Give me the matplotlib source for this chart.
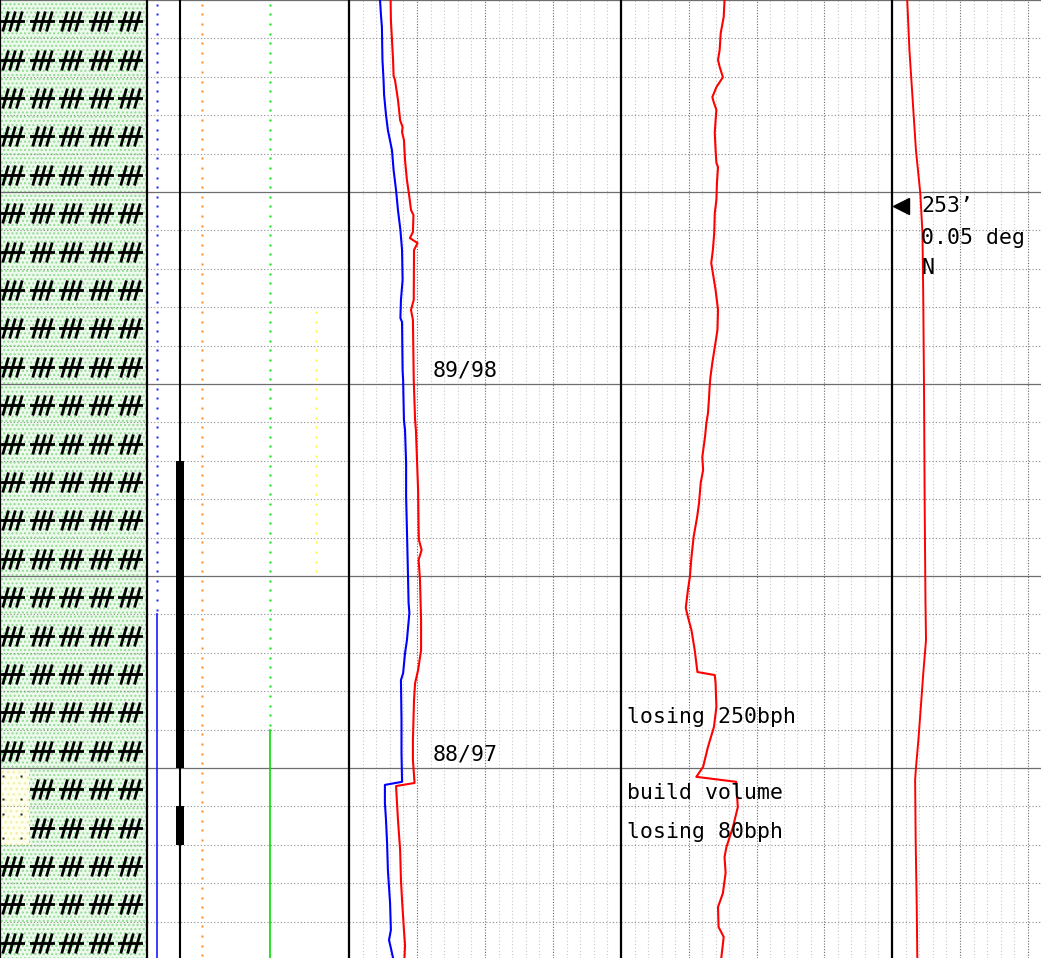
import numpy as np
import matplotlib
matplotlib.use("Agg")
import matplotlib.pyplot as plt
from matplotlib.path import Path
from matplotlib.patches import Rectangle
from matplotlib.ticker import MultipleLocator

W, H, DPI = 1041, 958, 100
ROW_PX = 38.4
N_ROWS = H / ROW_PX          # visible depth span, in grid rows

plt.rcParams['font.family'] = ['DejaVu Sans Mono']

# ---------------- data (depth in grid rows from top of section) ----------------
# Lithology: percent sand at the left of each row (rest is limestone symbol)
lith_rows = list(range(25))
sand_rows = [20, 21]
sand_pct = 20
lime_symbol_x = [8.5, 28.5, 48.5, 68.5, 88.5]
sand_dot_x = [1.8, 14.1]
sand_dot_dy = [0.2, 0.82]

# Gas / sample track (0-100 scale)
blue_gas = 5.0
blue_dotted = (0.0, 16.0)
blue_solid = (16.0, N_ROWS)
orange_gas = 27.4
orange_dotted = (0.0, N_ROWS)
green_gas = 61.0
green_dotted = (0.0, 19.0)
green_solid = (19.0, N_ROWS)
yellow_gas = 83.5
yellow_dotted = (8.0, 15.0)
sample_line = 16.3
sample_bars = [(12.0, 20.0), (21.0, 22.0)]
sample_bar_lo, sample_bar_hi = 14.4, 18.1

# Track 3 curves (0-100 scale)
t3_blue_depth = [0.00, 0.44, 0.70, 1.56, 1.82, 2.08, 2.47, 2.99, 3.39, 3.91, 4.43, 4.95,
                 5.47, 5.99, 6.51, 7.29, 7.81, 8.28, 8.39, 9.64, 9.90, 10.94, 11.20, 12.06,
                 12.94, 13.80, 15.03, 15.70, 15.96, 16.67, 17.01, 17.53, 17.71, 18.75, 19.61,
                 20.36, 20.44, 20.91, 21.35, 21.95, 22.66, 23.52, 24.22, 24.48, 24.69, 24.95]
t3_blue = [11.4, 11.8, 12.1, 12.3, 12.5, 12.7, 12.9, 13.6, 14.3, 15.8, 16.4, 17.3,
           18.0, 18.9, 19.5, 19.7, 19.1, 18.9, 19.5, 19.7, 19.9, 20.2, 20.6, 21.0,
           21.0, 21.3, 21.7, 21.9, 22.2, 21.3, 20.6, 19.9, 19.1, 19.3, 19.3,
           19.5, 13.2, 13.2, 13.6, 14.0, 14.3, 15.1, 15.4, 14.7, 15.4, 16.2]
t3_red_depth = [0.00, 0.52, 1.04, 1.56, 1.98, 2.08, 2.60, 3.13, 3.31, 3.44, 3.65, 4.17,
                4.69, 5.08, 5.47, 5.60, 6.04, 6.20, 6.33, 6.51, 7.81, 8.07, 8.33, 9.90,
                10.94, 11.20, 11.98, 12.76, 13.80, 14.06, 14.32, 14.58, 15.10, 16.15, 16.93,
                17.45, 17.79, 18.23, 19.27, 19.79, 20.39, 20.47, 21.35, 22.14, 22.92, 23.44,
                24.22, 24.61, 24.95]
t3_red = [15.3, 15.4, 15.8, 16.2, 16.4, 16.9, 18.0, 18.8, 19.7, 19.5, 20.2, 20.6,
          21.3, 22.1, 22.8, 23.7, 23.5, 22.4, 25.2, 23.9, 23.8, 22.8, 23.5, 23.8,
          24.3, 24.6, 25.0, 25.4, 25.6, 25.7, 26.7, 25.6, 26.1, 26.5, 26.5,
          25.4, 24.3, 23.9, 23.5, 23.5, 24.1, 17.3, 18.0, 18.8, 19.1, 19.5,
          20.2, 20.6, 20.4]

# Track 4 curve (0-100 scale)
t4_depth = [0.00, 0.44, 0.86, 1.30, 1.56, 1.74, 2.01, 2.27, 2.53, 2.68, 2.86, 3.13, 3.46,
            3.91, 4.24, 4.35, 4.77, 5.21, 5.55, 6.07, 6.51, 6.85, 7.55, 8.07, 8.59, 9.04,
            9.45, 9.82, 10.08, 10.34, 10.76, 11.02, 11.38, 11.90, 12.24, 12.58, 13.10,
            13.46, 13.98, 14.51, 15.03, 15.36, 15.83, 16.07, 16.41, 16.93, 17.50, 17.58,
            17.79, 18.41, 18.93, 19.45, 19.97, 20.23, 20.36, 21.02, 21.54, 22.06, 22.32,
            22.73, 23.26, 23.62, 24.14, 24.40, 24.95]
t4_red = [38.2, 37.9, 36.8, 36.4, 35.8, 36.4, 37.6, 35.2, 33.7, 34.3, 35.2, 34.9, 34.6,
          34.9, 35.2, 35.8, 35.4, 35.2, 34.6, 34.4, 33.9, 33.3, 34.9, 35.8, 35.6, 34.6,
          33.7, 33.0, 32.7, 32.5, 32.1, 31.5, 31.0, 30.0, 30.3, 29.4, 28.8,
          28.1, 26.8, 26.0, 25.4, 24.7, 23.9, 24.7, 26.0, 27.2, 28.2, 34.6,
          34.9, 35.2, 34.3, 32.1, 30.3, 27.8, 42.5, 43.1, 41.3, 38.9, 38.2,
          38.6, 37.6, 35.8, 36.0, 37.9, 37.0]

# Track 5 curve: deviation (0-100 scale)
t5_depth = [0.00, 1.30, 2.60, 3.91, 5.03, 6.07, 7.81, 10.42, 13.02, 15.63, 16.67, 17.53,
            18.41, 19.27, 20.00, 20.31, 21.88, 23.62, 24.95]
t5_red = [5.6, 6.4, 7.6, 8.8, 10.4, 11.2, 11.5, 11.8, 12.0, 12.3, 12.5, 11.5,
          10.6, 9.7, 8.8, 8.5, 8.7, 9.1, 9.3]
survey_depth = 5.36
survey_pos = 3.3
survey_labels = ["253\u2019", "0.05 deg", "N"]

# Remarks
t3_notes = [(30.9, 9.66, "89/98"), (30.9, 19.64, "88/97")]
t4_notes = [(2.2, 18.67, "losing 250bph"), (2.2, 20.65, "build volume"),
            (2.2, 21.67, "losing 80bph")]

# ---------------- figure ----------------
fig = plt.figure(figsize=(W / DPI, H / DPI), dpi=DPI)


def make_track(x0, x1, xmax, vgrid=False):
    ax = fig.add_axes([x0 / W, 0, (x1 - x0) / W, 1])
    ax.set_xlim(0, xmax)
    ax.set_ylim(N_ROWS, 0)
    ax.set_facecolor('none')
    for s in ('top', 'bottom', 'right'):
        ax.spines[s].set_visible(False)
    ax.spines['left'].set_color('black')
    ax.spines['left'].set_linewidth(1.6)
    ax.spines['left'].set_zorder(6)
    ax.yaxis.set_major_locator(MultipleLocator(5))
    ax.yaxis.set_minor_locator(MultipleLocator(1))
    ax.grid(True, which='major', axis='y', color='#6e6e6e', lw=0.9, zorder=0)
    ax.grid(True, which='minor', axis='y', color='#8c8c8c', lw=0.8,
            ls=(0, (1, 2)), zorder=0)
    if vgrid:
        ax.xaxis.set_major_locator(MultipleLocator(25))
        ax.xaxis.set_minor_locator(MultipleLocator(5))
        ax.grid(True, which='major', axis='x', color='#6a6a6a', lw=0.8,
                ls=(0, (1, 1.5)), zorder=0)
        ax.grid(True, which='minor', axis='x', color='#c8c8c8', lw=0.8,
                ls=(0, (1, 2)), zorder=0)
    else:
        ax.set_xticks([])
    ax.tick_params(which='both', length=0, labelleft=False, labelbottom=False)
    ax.set_axisbelow(True)
    return ax


ax_lith = make_track(0, 147, 100)
ax_gas = make_track(147, 349, 100)
ax_t3 = make_track(349, 621, 100, vgrid=True)
ax_t4 = make_track(621, 892, 100, vgrid=True)
ax_t5 = make_track(892, 1164, 100, vgrid=True)

# ---- lithology column ----
plt.rcParams['hatch.linewidth'] = 1.0
ax_lith.add_patch(Rectangle((0, 0), 100, N_ROWS, facecolor='#eef9ee',
                            edgecolor='#92dd92', hatch='....', lw=0, zorder=-1))
for r in sand_rows:
    ax_lith.add_patch(Rectangle((0, r), sand_pct, 1, facecolor='#fffff0',
                                edgecolor='#f0f0a8', hatch='...', lw=0, zorder=-0.5))

lime_mark = Path([(-1, 0), (1, 0),
                  (-0.78, -0.8), (-0.32, 0.8),
                  (-0.23, -0.8), (0.23, 0.8),
                  (0.32, -0.8), (0.78, 0.8)],
                 [Path.MOVETO, Path.LINETO] * 4)
lx, ly = [], []
for r in lith_rows:
    for x in lime_symbol_x:
        if r in sand_rows and x < sand_pct:
            continue
        lx.append(x)
        ly.append(r + 0.55)
ax_lith.plot(lx, ly, ls='none', marker=lime_mark, ms=18, mec='black',
             mfc='none', mew=2.0, zorder=3)
sx, sy = [], []
for r in sand_rows:
    for dy in sand_dot_dy:
        for x in sand_dot_x:
            sx.append(x)
            sy.append(r + dy)
ax_lith.plot(sx, sy, ls='none', marker='s', ms=1.6, mfc='#222', mec='none', zorder=3)

# ---- gas / sample column ----
def dotted_trace(ax, value, span, color):
    d = np.arange(span[0] + 0.125, span[1], 0.25)
    ax.plot(np.full_like(d, value), d, ls='none', marker='s', ms=1.7,
            mfc=color, mec='none', zorder=3)


def solid_trace(ax, value, span, color):
    ax.plot([value, value], list(span), color=color, lw=1.2, zorder=3)


dotted_trace(ax_gas, blue_gas, blue_dotted, '#2020ff')
solid_trace(ax_gas, blue_gas, blue_solid, '#1a1aff')
dotted_trace(ax_gas, orange_gas, orange_dotted, '#ff8c1a')
dotted_trace(ax_gas, green_gas, green_dotted, '#10dd10')
solid_trace(ax_gas, green_gas, green_solid, '#00dd00')
dotted_trace(ax_gas, yellow_gas, yellow_dotted, '#ffff30')
ax_gas.plot([sample_line, sample_line], [0, N_ROWS], color='black', lw=1.5, zorder=4)
for top, bot in sample_bars:
    ax_gas.fill_betweenx([top, bot], sample_bar_lo, sample_bar_hi,
                         color='black', lw=0, zorder=4)

# ---- curve tracks ----
ax_t3.plot(t3_blue, t3_blue_depth, color='#0000ff', lw=1.5, zorder=3)
ax_t3.plot(t3_red, t3_red_depth, color='#ff0000', lw=1.5, zorder=3)
ax_t4.plot(t4_red, t4_depth, color='#ff0000', lw=1.5, zorder=3)
ax_t5.plot(t5_red, t5_depth, color='#ff0000', lw=1.4, zorder=3)

ax_t5.plot([survey_pos], [survey_depth], ls='none', marker='<', ms=12,
           color='black', zorder=5)
for i, lab in enumerate(survey_labels):
    ax_t5.text(10.7, survey_depth + i * 0.85 - (0.07 if i == 2 else 0), lab,
               fontsize=15.5, va='center', ha='left', zorder=5)

for x, d, s in t3_notes:
    ax_t3.text(x, d, s, fontsize=15.5, va='center', ha='left', zorder=5)
for x, d, s in t4_notes:
    ax_t4.text(x, d, s, fontsize=15.5, va='center', ha='left', zorder=5)

fig.savefig('out.png', dpi=DPI)
